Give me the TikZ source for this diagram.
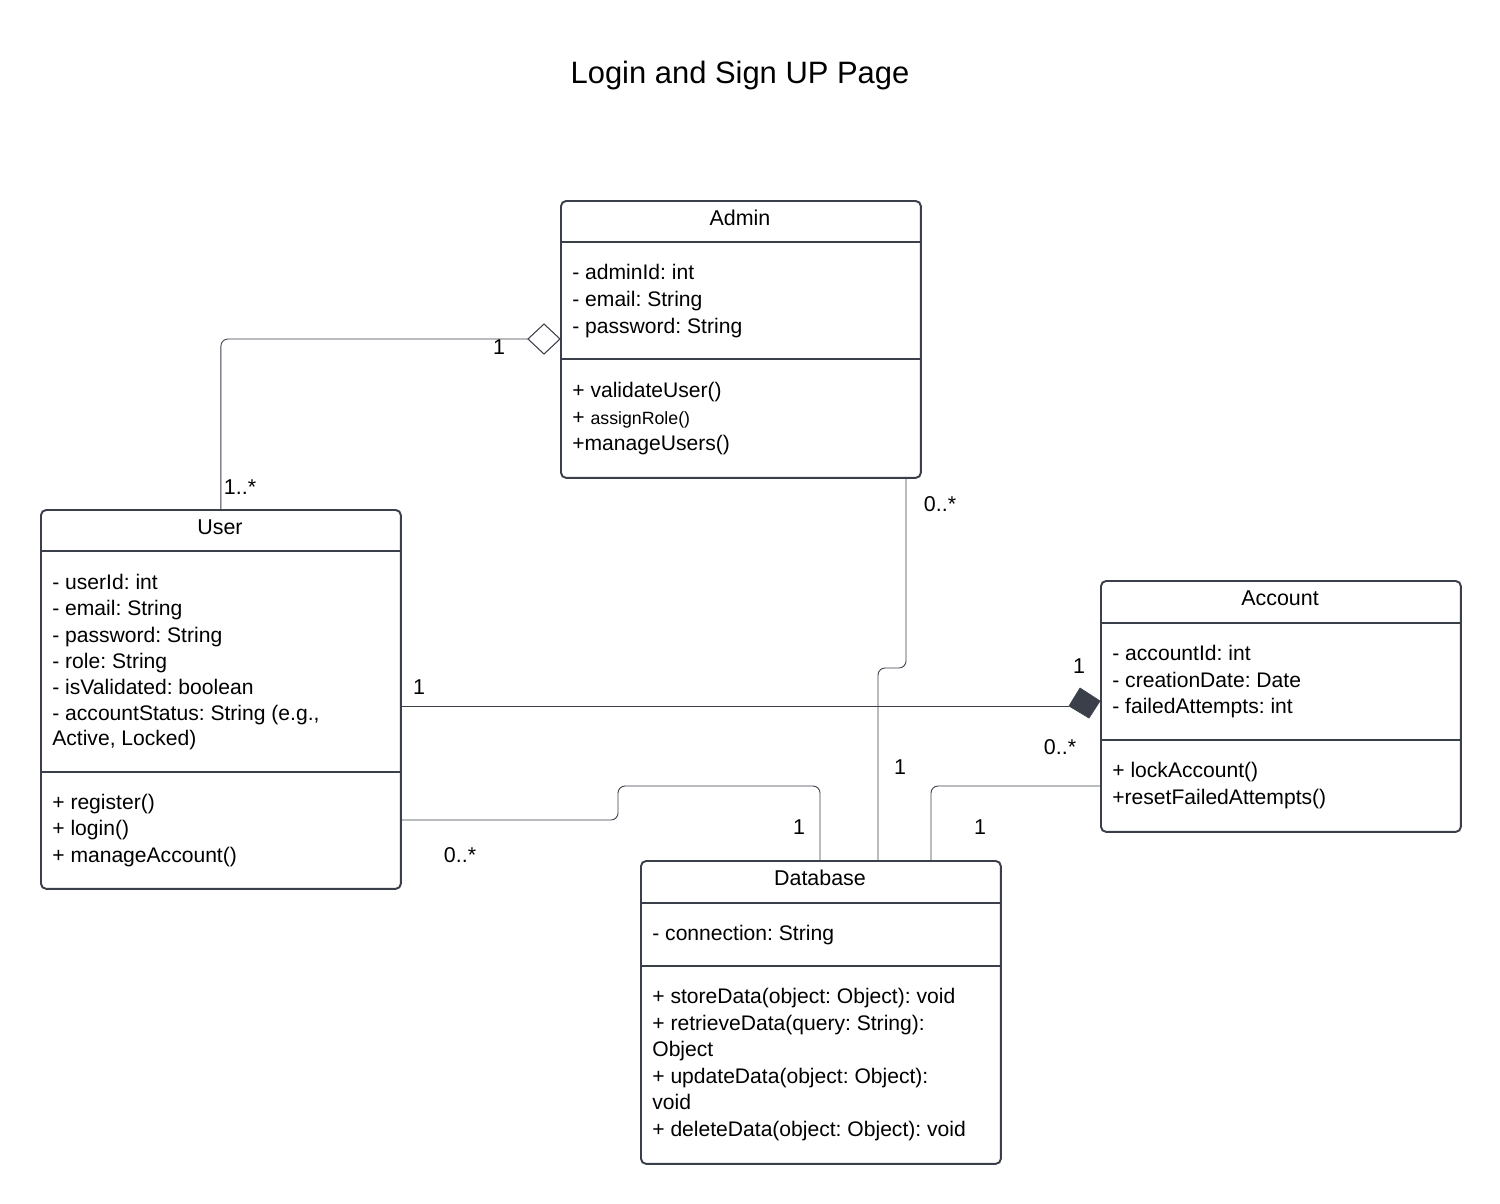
\documentclass[tikz,border=0pt]{standalone}
\usepackage{fontspec}
\setmainfont{Liberation Sans}
\usetikzlibrary{positioning,shapes}
\frenchspacing
\definecolor{penColor}{HTML}{3A3F4A}
\tikzset{classbox/.style={draw=penColor,line width=1.1pt,rounded corners=3pt,
    minimum width=7.2cm,anchor=north west,inner sep=0pt},
  cname/.style={font=\fontsize{12.2}{14}\selectfont,inner sep=0pt},
  member/.style={anchor=base west,inner sep=0pt,font=\fontsize{12}{14}\selectfont},
  mult/.style={inner sep=0pt,font=\fontsize{12.2}{14}\selectfont},
  link/.style={draw=penColor,line width=0.5pt,rounded corners=4pt},
  divider/.style={draw=penColor,line width=1.1pt}}

\begin{document}
\begin{tikzpicture}[x=0.02cm,y=-0.02cm]
  \useasboundingbox (0,0) rectangle (1500,1203);
  \node[font=\fontsize{17.6}{20}\selectfont] (title) at (740,76) {Login and Sign UP Page};

  % classes
  \node[classbox,minimum height=5.54cm] (adm) at (560,200) {};
  \node[classbox,minimum height=7.58cm] (usr) at (40,509) {};
  \node[classbox,minimum height=5.02cm] (acc) at (1100,580) {};
  \node[classbox,minimum height=6.06cm] (dbs) at (640,860) {};

  \draw[divider] (adm.west |- 0,242) -- (adm.east |- 0,242);
  \draw[divider] (adm.west |- 0,359) -- (adm.east |- 0,359);
  \draw[divider] (usr.west |- 0,551) -- (usr.east |- 0,551);
  \draw[divider] (usr.west |- 0,772) -- (usr.east |- 0,772);
  \draw[divider] (acc.west |- 0,623) -- (acc.east |- 0,623);
  \draw[divider] (acc.west |- 0,740) -- (acc.east |- 0,740);
  \draw[divider] (dbs.west |- 0,903) -- (dbs.east |- 0,903);
  \draw[divider] (dbs.west |- 0,966) -- (dbs.east |- 0,966);

  % Admin
  \node[cname] (admName) at (740,218) {Admin};
  \node[member] (admA1) at (572,279) {- adminId: int};
  \node[member] (admA2) at (572,306) {- email: String};
  \node[member] (admA3) at (572,333) {- password: String};
  \node[member] (admM1) at (572,397) {+ validateUser()};
  \node[member] (admM2) at (572,424) {+ {\fontsize{10.1}{12}\selectfont assignRole()}};
  \node[member] (admM3) at (572,450) {+manageUsers()};

  % User
  \node[cname] (usrName) at (220,527) {User};
  \node[member] (usrA1) at (52,589) {- userId: int};
  \node[member] (usrA2) at (52,615) {- email: String};
  \node[member] (usrA3) at (52,642) {- password: String};
  \node[member] (usrA4) at (52,668) {- role: String};
  \node[member] (usrA5) at (52,694) {- isValidated: boolean};
  \node[member] (usrA6) at (52,720) {- accountStatus: String (e.g.,};
  \node[member] (usrA7) at (52,745) {Active, Locked)};
  \node[member] (usrM1) at (52,809) {+ register()};
  \node[member] (usrM2) at (52,835) {+ login()};
  \node[member] (usrM3) at (52,862) {+ manageAccount()};

  % Account
  \node[cname] (accName) at (1280,598) {Account};
  \node[member] (accA1) at (1112,660) {- accountId: int};
  \node[member] (accA2) at (1112,687) {- creationDate: Date};
  \node[member] (accA3) at (1112,713) {- failedAttempts: int};
  \node[member] (accM1) at (1112,777) {+ lockAccount()};
  \node[member] (accM2) at (1112,804) {+resetFailedAttempts()};

  % Database
  \node[cname] (dbsName) at (820,878) {Database};
  \node[member] (dbsA1) at (652,940) {- connection: String};
  \node[member] (dbsM1) at (652,1003) {+ storeData(object: Object): void};
  \node[member] (dbsM2) at (652,1030) {+ retrieveData(query: String):};
  \node[member] (dbsM3) at (652,1056) {Object};
  \node[member] (dbsM4) at (652,1083) {+ updateData(object: Object):};
  \node[member] (dbsM5) at (652,1109) {void};
  \node[member] (dbsM6) at (652,1136) {+ deleteData(object: Object): void};

  % aggregation Admin -- User
  \coordinate (aggL) at (528,339);
  \draw[draw=penColor,line width=0.6pt,fill=white]
    (adm.west |- aggL) -- (544,324) -- (aggL) -- (544,354) -- cycle;
  \draw[link] (usr.north) |- (aggL);
  \node[mult] (m1) at (499,347) {1};
  \node[mult] (m2) at (240,487) {1..*};

  % composition User -- Account
  \coordinate (compL) at (1069,706);
  \draw[draw=penColor,fill=penColor] (1100,701) -- (1080,688) -- (compL) -- (1089,718) -- cycle;
  \draw[link] (usr.east |- compL) -- (compL);
  \node[mult] (m3) at (419,687) {1};
  \node[mult] (m4) at (1079,666) {1};
  \node[mult] (m5) at (1060,747) {0..*};

  % User -- Database
  \coordinate (u3) at (400,820);
  \coordinate (d3) at (820,860);
  \draw[link] (u3) -- (618,820) -- (618,786) -- (820,786) -- (d3);
  \node[mult] (m6) at (460,855) {0..*};
  \node[mult] (m7) at (799,827) {1};

  % Admin -- Database
  \coordinate (a4) at (906,477);
  \coordinate (d4) at (878,860);
  \draw[link] (a4) -- (906,668) -- (878,668) -- (d4);
  \node[mult] (m8) at (940,504) {0..*};
  \node[mult] (m9) at (900,767) {1};

  % Account -- Database
  \coordinate (c5) at (1100,786);
  \coordinate (d5) at (931,860);
  \draw[link] (c5) -| (d5);
  \node[mult] (m10) at (980,827) {1};
\end{tikzpicture}
\end{document}
